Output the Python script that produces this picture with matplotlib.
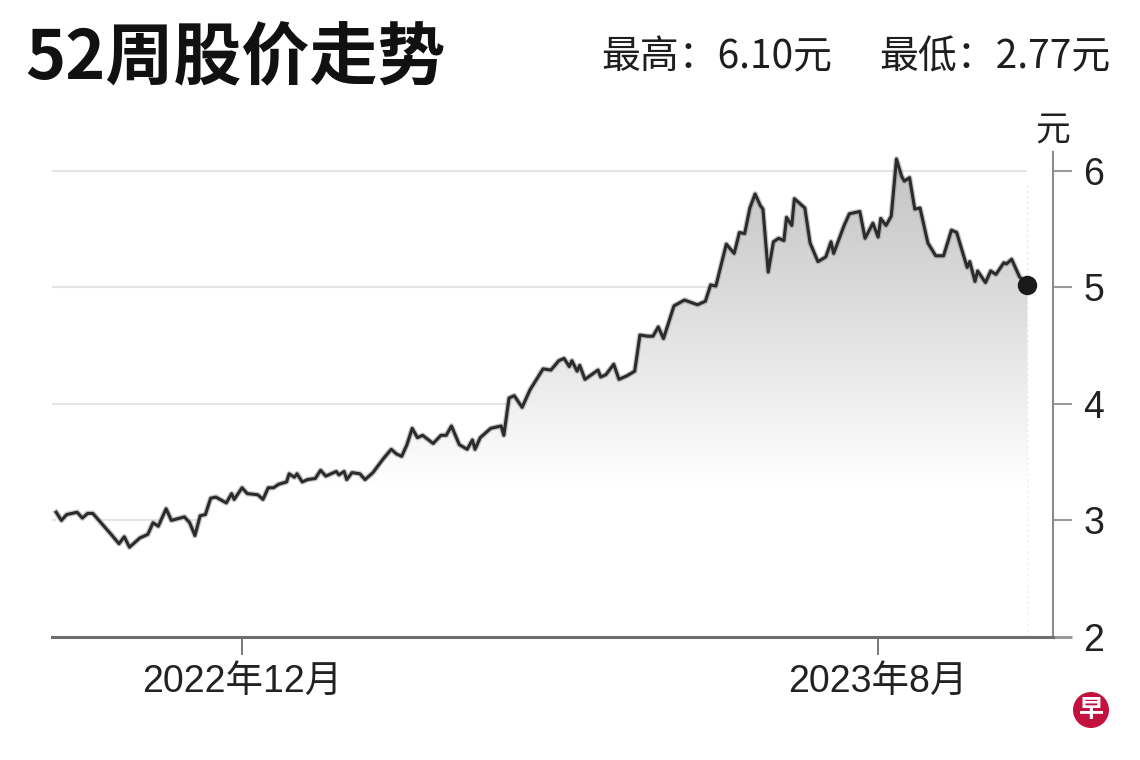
import numpy as np
import pandas as pd
import matplotlib
matplotlib.use('Agg')
import matplotlib.pyplot as plt
import matplotlib.dates as mdates

# ---------------- data ----------------
dates = [
    '2022-09-21', '2022-09-23', '2022-09-25', '2022-09-29', '2022-10-01', '2022-10-03',
    '2022-10-05', '2022-10-12', '2022-10-15', '2022-10-17', '2022-10-19', '2022-10-23',
    '2022-10-26', '2022-10-28', '2022-10-30', '2022-11-02', '2022-11-04', '2022-11-09',
    '2022-11-11', '2022-11-13', '2022-11-15', '2022-11-17', '2022-11-19', '2022-11-21',
    '2022-11-25', '2022-11-27', '2022-11-28', '2022-12-01', '2022-12-03', '2022-12-07',
    '2022-12-09', '2022-12-11', '2022-12-13', '2022-12-15', '2022-12-18', '2022-12-19',
    '2022-12-21', '2022-12-22', '2022-12-24', '2022-12-26', '2022-12-29', '2022-12-31',
    '2023-01-02', '2023-01-06', '2023-01-07', '2023-01-09', '2023-01-10', '2023-01-12',
    '2023-01-15', '2023-01-17', '2023-01-20', '2023-01-24', '2023-01-27', '2023-01-29',
    '2023-01-31', '2023-02-02', '2023-02-04', '2023-02-06', '2023-02-08', '2023-02-12',
    '2023-02-15', '2023-02-17', '2023-02-19', '2023-02-22', '2023-02-25', '2023-02-27',
    '2023-02-28', '2023-03-02', '2023-03-06', '2023-03-10', '2023-03-11', '2023-03-13',
    '2023-03-15', '2023-03-18', '2023-03-21', '2023-03-26', '2023-03-29', '2023-04-01',
    '2023-04-03', '2023-04-05', '2023-04-06', '2023-04-08', '2023-04-09', '2023-04-11',
    '2023-04-16', '2023-04-17', '2023-04-19', '2023-04-22', '2023-04-24', '2023-04-27',
    '2023-04-30', '2023-05-02', '2023-05-05', '2023-05-07', '2023-05-09', '2023-05-11',
    '2023-05-15', '2023-05-19', '2023-05-24', '2023-05-27', '2023-05-29', '2023-05-31',
    '2023-06-04', '2023-06-07', '2023-06-09', '2023-06-11', '2023-06-13', '2023-06-15',
    '2023-06-17', '2023-06-18', '2023-06-20', '2023-06-22', '2023-06-24', '2023-06-26',
    '2023-06-27', '2023-06-29', '2023-06-30', '2023-07-04', '2023-07-06', '2023-07-09',
    '2023-07-12', '2023-07-14', '2023-07-15', '2023-07-19', '2023-07-21', '2023-07-25',
    '2023-07-27', '2023-07-30', '2023-08-01', '2023-08-02', '2023-08-04', '2023-08-06',
    '2023-08-08', '2023-08-10', '2023-08-11', '2023-08-13', '2023-08-15', '2023-08-17',
    '2023-08-20', '2023-08-23', '2023-08-26', '2023-08-29', '2023-08-31', '2023-09-04',
    '2023-09-05', '2023-09-07', '2023-09-08', '2023-09-11', '2023-09-13', '2023-09-15',
    '2023-09-18', '2023-09-19', '2023-09-21', '2023-09-24', '2023-09-27',
]
prices = [
    3.07, 3.00, 3.05, 3.07, 3.02, 3.06,
    3.06, 2.88, 2.80, 2.86, 2.77, 2.85,
    2.88, 2.98, 2.95, 3.10, 3.00, 3.03,
    2.98, 2.87, 3.04, 3.05, 3.19, 3.20,
    3.15, 3.23, 3.18, 3.28, 3.23, 3.22,
    3.18, 3.28, 3.28, 3.31, 3.33, 3.40,
    3.37, 3.40, 3.33, 3.35, 3.36, 3.43,
    3.38, 3.42, 3.39, 3.42, 3.35, 3.41,
    3.40, 3.35, 3.41, 3.53, 3.61, 3.57,
    3.55, 3.65, 3.79, 3.71, 3.73, 3.66,
    3.73, 3.73, 3.81, 3.65, 3.61, 3.69,
    3.61, 3.71, 3.79, 3.81, 3.73, 4.05,
    4.07, 3.97, 4.12, 4.30, 4.29, 4.37,
    4.39, 4.32, 4.37, 4.28, 4.33, 4.21,
    4.29, 4.23, 4.25, 4.34, 4.21, 4.24,
    4.28, 4.59, 4.58, 4.58, 4.66, 4.56,
    4.84, 4.89, 4.85, 4.88, 5.02, 5.01,
    5.37, 5.29, 5.47, 5.46, 5.68, 5.80,
    5.70, 5.67, 5.13, 5.39, 5.42, 5.40,
    5.60, 5.53, 5.76, 5.68, 5.38, 5.22,
    5.26, 5.39, 5.29, 5.53, 5.63, 5.65,
    5.42, 5.55, 5.43, 5.59, 5.53, 5.61,
    6.10, 5.95, 5.91, 5.94, 5.67, 5.68,
    5.38, 5.27, 5.27, 5.49, 5.47, 5.17,
    5.22, 5.05, 5.14, 5.04, 5.14, 5.11,
    5.21, 5.20, 5.24, 5.09, 5.02,
]
y_ticks = [2, 3, 4, 5, 6]
grid_levels = [3, 4, 5, 6]
x_tick_dates = ['2022-12-01', '2023-08-01']
x_tick_labels = ['2022年12月', '2023年8月']
title_text = '52周股价走势'
high_text = '最高：6.10元'
low_text = '最低：2.77元'
unit_text = '元'
logo_text = '早'

# ---------------- figure ----------------
plt.rcParams['font.family'] = ['Liberation Sans', 'Noto Sans CJK SC', 'DejaVu Sans']
W, H = 1140, 760
fig = plt.figure(figsize=(W / 100, H / 100), dpi=100)
fig.patch.set_facecolor('white')

ax = fig.add_axes([52 / W, 1 - 637 / H, (1053 - 52) / W, (637 - 152) / H])

xn = mdates.date2num(pd.to_datetime(dates))
py = np.array(prices)
ref = pd.Timestamp('2022-12-01')
x0 = mdates.date2num(ref - pd.Timedelta(days=72.6))
x1 = mdates.date2num(ref + pd.Timedelta(days=309.8))
y0, y1 = 2.0, 6.16
ax.set_xlim(x0, x1)
ax.set_ylim(y0, y1)

# grid lines (only up to last data point)
ax.hlines(grid_levels, x0, xn[-1], colors='#e5e5e5', lw=1.5, zorder=0)
ax.vlines(xn[-1], y0, 5.9, colors='#ebebeb', lw=1.0, linestyles=(0, (2, 2)), zorder=0)

# gradient fill under the line
vals = np.linspace(y0, y1, 500)
g = np.interp(vals, [2.0, 3.3, 4.0, 5.0, 6.16], [1.0, 1.0, 0.94, 0.855, 0.76])
img = np.dstack([g, g, g]).reshape(len(vals), 1, 3)
poly = ax.fill_between(xn, py, y0, facecolor='none', edgecolor='none')
im = ax.imshow(img, extent=[x0, x1, y0, y1], origin='lower', aspect='auto',
               interpolation='bilinear', zorder=1)
im.set_clip_path(poly.get_paths()[0], transform=ax.transData)

# line with soft halo
ax.plot(xn, py, color='#8c8c8c', lw=4.0, alpha=0.5, solid_joinstyle='round', zorder=2)
ax.plot(xn, py, color='#2b2b2b', lw=2.2, solid_joinstyle='round', zorder=3)
ax.plot([xn[-1]], [py[-1]], 'o', ms=13, color='#1a1a1a', clip_on=False, zorder=5)

# spines
for s in ['left', 'top']:
    ax.spines[s].set_visible(False)
ax.spines['right'].set_color('#8c8c8c')
ax.spines['right'].set_linewidth(1.5)
ax.spines['bottom'].set_color('#6e6e6e')
ax.spines['bottom'].set_linewidth(2.2)

# ticks
ax.yaxis.tick_right()
ax.set_yticks(y_ticks)
ax.set_yticklabels([str(v) for v in y_ticks])
ax.tick_params(axis='y', direction='out', length=14, width=1.5, color='#9a9a9a',
               pad=8, labelsize=27, labelcolor='#222222')
base_tick = ax.yaxis.get_major_ticks()[0]
base_tick.tick2line.set_color('#6e6e6e')
base_tick.tick2line.set_markeredgewidth(2.2)
ax.set_xticks(mdates.date2num(pd.to_datetime(x_tick_dates)))
ax.set_xticklabels(x_tick_labels)
ax.tick_params(axis='x', direction='out', length=13, width=1.3, color='#6e6e6e',
               pad=6, labelsize=27, labelcolor='#222222')

# texts
fig.text(25 / W, 1 - 60 / H, title_text, ha='left', va='center', fontsize=49,
         fontweight='heavy', color='#111111',
         family=['Noto Sans CJK SC', 'DejaVu Sans'])
fig.text(832 / W, 1 - 57 / H, high_text, ha='right', va='center', fontsize=28,
         color='#1e1e1e', family=['Noto Sans CJK SC', 'DejaVu Sans'])
fig.text(1110 / W, 1 - 57 / H, low_text, ha='right', va='center', fontsize=28,
         color='#1e1e1e', family=['Noto Sans CJK SC', 'DejaVu Sans'])
fig.text(1053 / W, 1 - 131 / H, unit_text, ha='center', va='center', fontsize=25,
         color='#222222', family=['Noto Sans CJK SC', 'DejaVu Sans'])
fig.text(1091 / W, 1 - 710 / H, logo_text, ha='center', va='center', fontsize=18,
         fontweight='bold', color='white', family=['Noto Sans CJK SC', 'DejaVu Sans'],
         bbox=dict(boxstyle='circle,pad=0.22', fc='#c4123f', ec='none'))

fig.savefig('out.png', dpi=100, facecolor='white')
